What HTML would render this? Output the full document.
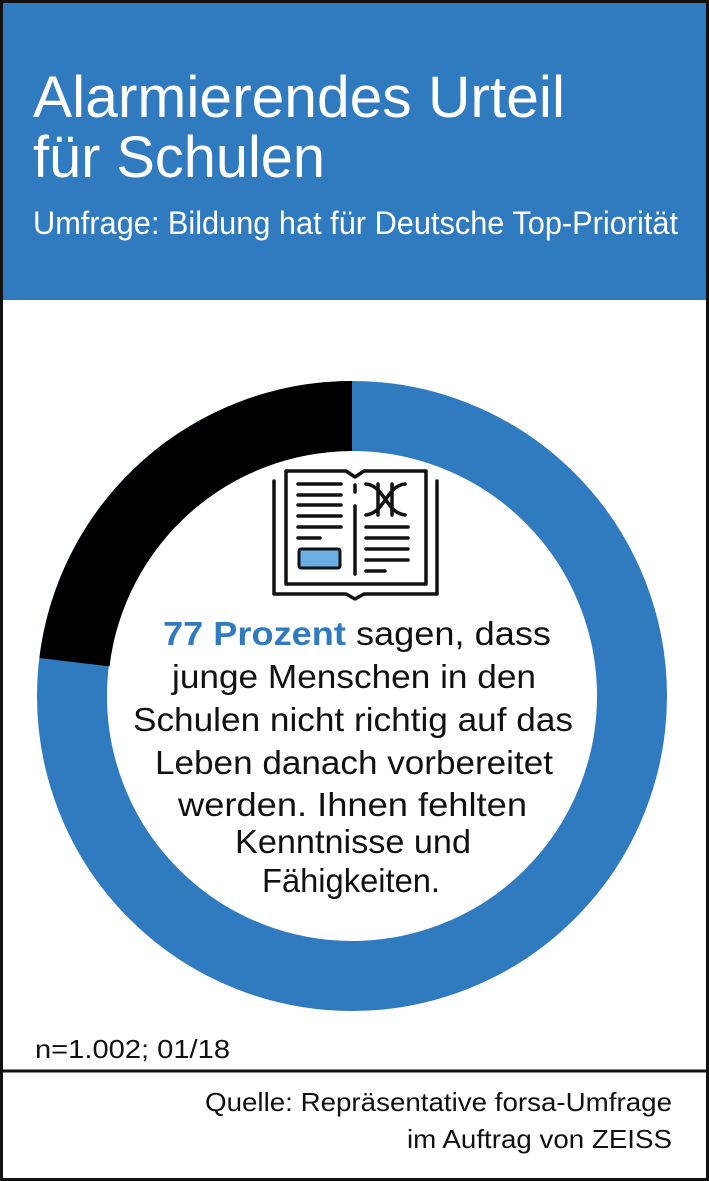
<!DOCTYPE html>
<html><head><meta charset="utf-8"><style>
html,body{margin:0;padding:0;background:#fff}
svg{display:block}
text{font-family:"Liberation Sans",sans-serif}
</style></head><body>
<svg width="709" height="1181" viewBox="0 0 709 1181" xmlns="http://www.w3.org/2000/svg">
<rect x="0" y="0" width="709" height="1181" fill="#fff"/>
<rect x="0" y="0" width="709" height="300" fill="#307abf"/>
<text x="33" y="117" font-size="58" fill="#fff" textLength="532" lengthAdjust="spacingAndGlyphs">Alarmierendes Urteil</text>
<text x="33" y="177" font-size="58" fill="#fff" textLength="292" lengthAdjust="spacingAndGlyphs">für Schulen</text>
<text x="33" y="234" font-size="32" fill="#fff" textLength="645" lengthAdjust="spacingAndGlyphs">Umfrage: Bildung hat für Deutsche Top-Priorität</text>

<circle cx="352" cy="696" r="280" fill="none" stroke="#307abf" stroke-width="70"/>
<path d="M352 381 A315 315 0 0 0 39.4 658.0 L109.5 666.4 A245 245 0 0 1 352 451 Z" fill="#000"/>

<g fill="none" stroke="#111" stroke-width="3.5" stroke-linecap="round" stroke-linejoin="round">
<path d="M286 471 H346 L355 477 L364 471 H426 V584 H286 Z"/>
<path d="M274 481 V594 H346 L355 599 L364 594 H437 V481"/>
<line x1="355" y1="485" x2="355" y2="492"/>
<line x1="355" y1="506" x2="355" y2="574"/>
<line x1="298" y1="484" x2="341" y2="484"/>
<line x1="298" y1="495" x2="341" y2="495"/>
<line x1="298" y1="505" x2="341" y2="505"/>
<line x1="298" y1="516" x2="341" y2="516"/>
<line x1="298" y1="527" x2="341" y2="527"/>
<line x1="298" y1="538" x2="320" y2="538"/>
<line x1="366" y1="527" x2="408" y2="527"/>
<line x1="366" y1="538" x2="408" y2="538"/>
<line x1="366" y1="549" x2="408" y2="549"/>
<line x1="366" y1="560" x2="408" y2="560"/>
<line x1="366" y1="571" x2="385" y2="571"/>
<path d="M366 484 C385 486 386 513 405 515 M366 515 C385 513 386 486 405 484 M378 484 V515 M392 484 V515"/>
</g>
<rect x="299" y="549" width="41" height="19" fill="#6aaee3" stroke="#111" stroke-width="3" rx="2"/>

<g font-size="33" fill="#111">
<text x="163" y="645" textLength="388" lengthAdjust="spacingAndGlyphs"><tspan fill="#307abf" font-weight="bold">77 Prozent</tspan> sagen, dass</text>
<text x="172" y="688" textLength="364" lengthAdjust="spacingAndGlyphs">junge Menschen in den</text>
<text x="133" y="731" textLength="440" lengthAdjust="spacingAndGlyphs">Schulen nicht richtig auf das</text>
<text x="155" y="774" textLength="398" lengthAdjust="spacingAndGlyphs">Leben danach vorbereitet</text>
<text x="178" y="816" textLength="349" lengthAdjust="spacingAndGlyphs">werden. Ihnen fehlten</text>
<text x="235" y="853" textLength="236" lengthAdjust="spacingAndGlyphs">Kenntnisse und</text>
<text x="262" y="892" textLength="178" lengthAdjust="spacingAndGlyphs">Fähigkeiten.</text>
</g>

<text x="35" y="1058" font-size="26" fill="#111" textLength="195" lengthAdjust="spacingAndGlyphs">n=1.002; 01/18</text>
<line x1="0" y1="1071" x2="709" y2="1071" stroke="#111" stroke-width="3"/>
<text x="672" y="1111" font-size="26" fill="#111" text-anchor="end" textLength="467" lengthAdjust="spacingAndGlyphs">Quelle: Repräsentative forsa-Umfrage</text>
<text x="672" y="1148" font-size="26" fill="#111" text-anchor="end" textLength="265" lengthAdjust="spacingAndGlyphs">im Auftrag von ZEISS</text>

<rect x="1.5" y="1.5" width="706" height="1178" fill="none" stroke="#111" stroke-width="3"/>
</svg>
</body></html>
